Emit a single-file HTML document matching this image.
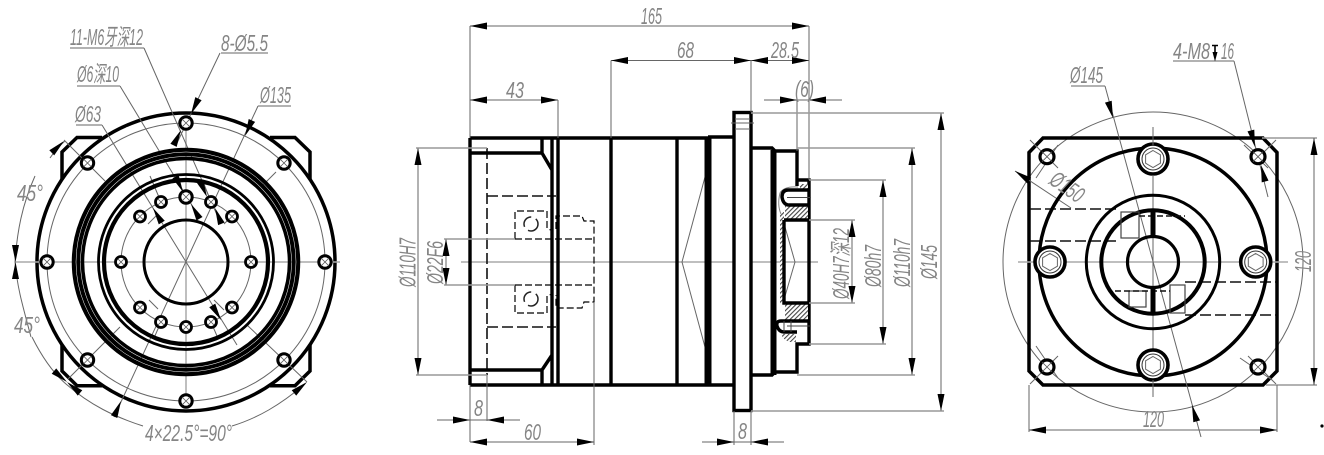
<!DOCTYPE html>
<html>
<head>
<meta charset="utf-8">
<style>
html,body{margin:0;padding:0;background:#fff;width:1324px;height:455px;overflow:hidden}
svg{display:block}
text{font-family:"Liberation Sans","Noto Sans CJK SC",sans-serif;font-style:italic;fill:#858585;font-size:23px}
.k{fill:none;stroke:#000;stroke-width:3.5}
.d{fill:none;stroke:#111;stroke-width:1.6;stroke-dasharray:11 4}
.f{fill:none;stroke:#666;stroke-width:1}
.g{fill:none;stroke:#999;stroke-width:1.4}
.c{fill:none;stroke:#aaa;stroke-width:1.5}
</style>
</head>
<body>
<svg width="1324" height="455" viewBox="0 0 1324 455" xmlns="http://www.w3.org/2000/svg">
<defs>
<path id="a" d="M0 0L-17 -3.5V3.5z" fill="#000"/>
<g id="h"><circle r="5.5" fill="#fff" stroke="#000" stroke-width="2.8"/><path d="M-3 -3L3 3M-3 3L3 -3" stroke="#555" stroke-width=".8"/></g>
<g id="b"><circle r="6.2" fill="#fff" stroke="#000" stroke-width="3"/><path d="M-4 -4L4 4M-4 4L4 -4" stroke="#555" stroke-width=".8"/></g>
<g id="s"><circle r="15" fill="#fff" stroke="#000" stroke-width="3.6"/><circle r="11" fill="none" stroke="#333" stroke-width="1"/><path d="M0 -8.5L7.4 -4.2V4.2L0 8.5L-7.4 4.2V-4.2z" fill="none" stroke="#666" stroke-width="1"/></g>
<g id="q"><circle r="7" fill="#fff" stroke="#000" stroke-width="3.2"/><path d="M-5 -5L5 5M-5 5L5 -5" stroke="#555" stroke-width=".8"/></g>
<pattern id="ht" width="3.2" height="3.2" patternUnits="userSpaceOnUse" patternTransform="rotate(45)"><rect width="3.2" height="3.2" fill="#fff"/><rect width="1.1" height="3.2" fill="#444"/></pattern>
</defs>

<!-- LEFT VIEW -->
<path class="k" d="M102 137.5H77L62 152V180M62 344V371L77 385.7H102M270 137.5H295L310 152V180M310 344V371L295 385.7H270"/>
<circle cx="186" cy="262" r="149" fill="#fff" stroke="#000" stroke-width="3.5"/>
<circle class="f" cx="186" cy="262" r="139"/>
<circle class="f" cx="186" cy="262" r="65"/>
<path class="c" d="M186 118V400M15 262H340"/>
<path class="f" d="M64 140L105 181M68 379L120 327M247 325L307 382M276 172L262 186M102 125L237 345M258 106L114 417M120 86L199 217M144 48L221 224M220 53L177 143"/>
<path class="f" d="M148 224L157 215M224 224L233 215M149 300L158 309M214 300L224 310M161 202L150 176M211 202L204 184M161 322L154 338M211 322L217 336"/>
<path class="f" d="M15 262C17 232 22 205 35 176M50 158C54 152 58 147 65 141M15 262C17 285 21 300 31 337M32 337C41 355 52 372 66 384M66 384C90 405 115 417 143 426M232 426C258 418 280 405 305 384"/>
<path class="f" d="M70 48H144M221 53H268M77 86H120M258 106H291M76 125H102"/>
<circle class="k" cx="186" cy="262" r="110" style="stroke-width:8.5"/>
<circle cx="186" cy="262" r="110" fill="none" stroke="#fff" stroke-width=".5"/>
<circle class="k" cx="186" cy="262" r="103.5"/>
<circle class="k" cx="186" cy="262" r="87.5" style="stroke-width:2.8"/>
<circle class="k" cx="186" cy="262" r="82" style="stroke-width:4.2"/>
<circle class="k" cx="186" cy="262" r="42" style="stroke-width:3"/>
<use href="#b" x="186" y="123"/><use href="#b" x="186" y="401"/><use href="#b" x="47" y="262"/><use href="#b" x="325" y="262"/>
<use href="#b" x="87.5" y="163"/><use href="#b" x="284" y="163"/><use href="#b" x="87.5" y="360"/><use href="#b" x="284" y="360"/>
<use href="#h" x="121" y="262"/><use href="#h" x="251" y="262"/>
<use href="#h" x="140" y="216.5"/><use href="#h" x="232" y="216.5"/><use href="#h" x="140" y="307.5"/><use href="#h" x="232" y="307.5"/>
<use href="#h" x="161" y="202"/><use href="#h" x="211" y="202"/><use href="#h" x="161" y="322"/><use href="#h" x="211" y="322"/><use href="#h" x="186" y="327"/>
<use href="#b" x="186" y="197"/>
<!-- left arrows -->
<use href="#a" transform="translate(191 114) rotate(116)"/>
<use href="#a" transform="translate(181 130) rotate(-64)"/>
<use href="#a" transform="translate(183 192) rotate(64)"/>
<use href="#a" transform="translate(191 204) rotate(-120)"/>
<use href="#a" transform="translate(207 197) rotate(66)"/>
<use href="#a" transform="translate(215 208) rotate(-112)"/>
<use href="#a" transform="translate(245 136) rotate(114)"/>
<use href="#a" transform="translate(121 401) rotate(-66)"/>
<use href="#a" transform="translate(153 208) rotate(-121)"/>
<use href="#a" transform="translate(221 320) rotate(59)" />
<use href="#a" transform="translate(64 141) rotate(-44)"/>
<use href="#a" transform="translate(15.5 262) rotate(90)"/>
<use href="#a" transform="translate(15.5 262) rotate(-90)"/>
<use href="#a" transform="translate(67 382) rotate(40)"/>
<use href="#a" transform="translate(307 382) rotate(-40)"/>
<use href="#a" transform="translate(67 382) rotate(-140)"/>
<text x="70" y="45" textLength="73" lengthAdjust="spacingAndGlyphs">11-M6牙深12</text>
<text x="221" y="51" textLength="47" lengthAdjust="spacingAndGlyphs">8-Ø5.5</text>
<text x="77" y="82" textLength="42" lengthAdjust="spacingAndGlyphs">Ø6深10</text>
<text x="260" y="103" textLength="31" lengthAdjust="spacingAndGlyphs">Ø135</text>
<text x="75" y="122" textLength="26" lengthAdjust="spacingAndGlyphs">Ø63</text>
<text x="17" y="201" textLength="26" lengthAdjust="spacingAndGlyphs">45°</text>
<text x="14" y="333" textLength="26" lengthAdjust="spacingAndGlyphs">45°</text>
<text x="145" y="441" textLength="87" lengthAdjust="spacingAndGlyphs">4×22.5°=90°</text>

<!-- MIDDLE VIEW -->
<path class="c" d="M461 262H818"/>
<path class="d" d="M487 148V375M487 196H556M487 327H556"/>
<path d="M515 239V211H547V228Q549 230 552 230V228M515 285V313H547V296Q549 294 552 295M556 229V216H582L584 221H594V302H584L582 308H556V295M515 239H594M515 285H594" fill="none" stroke="#000" stroke-width="1.2" stroke-dasharray="7 3"/>
<circle cx="531" cy="224" r="7" fill="none" stroke="#222" stroke-width="1.5" stroke-dasharray="14 5"/>
<circle cx="531" cy="299" r="7" fill="none" stroke="#222" stroke-width="1.5" stroke-dasharray="14 5"/>
<path class="f" d="M705 177L682 262L705 347M783 220L795 262L783 303"/>
<path d="M470 138H708M470 385H708M470 138V385M470 153H542V138M470 370H542V385M542 153L552 170M542 370L552 355M552 138V385M558 138V385M611 138V385M677 138V385M708 137H733M708 385H733" fill="none" stroke="#000" stroke-width="3.4"/>
<rect x="704.5" y="137" width="7" height="248" fill="#000"/>
<rect x="734" y="112.5" width="17" height="298" fill="#fff" stroke="#000" stroke-width="3.4"/>
<path class="f" d="M731 123H754M735 119H750M735 129H750"/>
<path d="M751 148H772L775 151H797V186M797 180H809V344H797V372H775L772 375H751" fill="none" stroke="#000" stroke-width="3.4"/>
<rect x="770.5" y="150" width="6" height="225" fill="#000"/>
<rect x="785" y="205" width="23" height="15" fill="url(#ht)"/>
<rect x="785" y="303" width="23" height="17" fill="url(#ht)"/>
<rect x="800" y="184" width="8" height="6" fill="url(#ht)"/>
<rect x="780" y="212" width="4" height="92" fill="url(#ht)"/>
<path d="M781 334H796V342H790Q783 340 781 334z" fill="url(#ht)"/>
<path d="M798 187Q784 186 780 193Q777 205 781 214" fill="none" stroke="#888" stroke-width="1"/>
<path d="M809 190H788Q782 190 782 197Q783 204 788 205H809M784 220H809M784 220V303H809M809 321H781Q776 321 777 326Q779 332 784 332H797" fill="none" stroke="#000" stroke-width="3.4"/>
<path d="M787 197.5H811M787 326H811M784 321V332M791 321V332" fill="none" stroke="#444" stroke-width="1"/>
<path class="f" d="M470 26V138M809 26V180M470 26H809M611 60.5V138M751 60.5V112M611 60.5H751M751 60.5H809M470 100H558M558 100V138M764 100H842M797 100V151"/>
<path class="f" d="M941 113V411M912 148V375M883 180V344M852 220V303M418 148V375M446 239V285M437 420H520M470 385V442M487 375V421M470 442H594M594 302V445M702 442H784M734 411V445M751 411V445"/>
<path class="g" d="M751 113H944M751 411H944M797 148H915M797 375H915M809 180H886M809 344H886M809 220H855M809 303H855M416 148H487M416 375H487M444 239H515M444 285H515"/>
<use href="#a" transform="translate(470 26) rotate(180)"/><use href="#a" x="809" y="26"/>
<use href="#a" transform="translate(611 60.5) rotate(180)"/><use href="#a" x="751" y="60.5"/>
<use href="#a" transform="translate(751 60.5) rotate(180)"/><use href="#a" x="809" y="60.5"/>
<use href="#a" transform="translate(470 100) rotate(180)"/><use href="#a" x="558" y="100"/>
<use href="#a" x="797" y="100"/><use href="#a" transform="translate(809 100) rotate(180)"/>
<use href="#a" transform="translate(941 113) rotate(-90)"/><use href="#a" transform="translate(941 411) rotate(90)"/>
<use href="#a" transform="translate(912 148) rotate(-90)"/><use href="#a" transform="translate(912 375) rotate(90)"/>
<use href="#a" transform="translate(883 180) rotate(-90)"/><use href="#a" transform="translate(883 344) rotate(90)"/>
<use href="#a" transform="translate(852 220) rotate(-90)"/><use href="#a" transform="translate(852 303) rotate(90)"/>
<use href="#a" transform="translate(418 148) rotate(-90)"/><use href="#a" transform="translate(418 375) rotate(90)"/>
<use href="#a" transform="translate(446 239) rotate(-90)"/><use href="#a" transform="translate(446 285) rotate(90)"/>
<use href="#a" x="470" y="420"/><use href="#a" transform="translate(487 420) rotate(180)"/>
<use href="#a" transform="translate(470 442) rotate(180)"/><use href="#a" x="594" y="442"/>
<use href="#a" x="734" y="442"/><use href="#a" transform="translate(751 442) rotate(180)"/>
<text x="641" y="24" textLength="21" lengthAdjust="spacingAndGlyphs">165</text>
<text x="677" y="58" textLength="17" lengthAdjust="spacingAndGlyphs">68</text>
<text x="771" y="58" textLength="28" lengthAdjust="spacingAndGlyphs">28.5</text>
<text x="795" y="97" textLength="19" lengthAdjust="spacingAndGlyphs">(6)</text>
<text x="506" y="98" textLength="18" lengthAdjust="spacingAndGlyphs">43</text>
<text x="474" y="416" textLength="9" lengthAdjust="spacingAndGlyphs">8</text>
<text x="524" y="440" textLength="17" lengthAdjust="spacingAndGlyphs">60</text>
<text x="738" y="439" textLength="9" lengthAdjust="spacingAndGlyphs">8</text>
<text transform="translate(415.5 287) rotate(-90)" textLength="49" lengthAdjust="spacingAndGlyphs">Ø110H7</text>
<text transform="translate(443 284) rotate(-90)" textLength="43" lengthAdjust="spacingAndGlyphs">Ø22F6</text>
<text transform="translate(849 299) rotate(-90)" textLength="71" lengthAdjust="spacingAndGlyphs">Ø40H7深12</text>
<text transform="translate(881 287) rotate(-90)" textLength="42" lengthAdjust="spacingAndGlyphs">Ø80h7</text>
<text transform="translate(910 287) rotate(-90)" textLength="48" lengthAdjust="spacingAndGlyphs">Ø110h7</text>
<text transform="translate(937 279) rotate(-90)" textLength="34" lengthAdjust="spacingAndGlyphs">Ø145</text>

<!-- RIGHT VIEW -->
<circle class="f" cx="1153" cy="262" r="150"/>
<path d="M1043 138H1263L1277 152.5V371L1263 385H1043L1029 371V152.5z" fill="none" stroke="#000" stroke-width="3.5"/>
<path class="c" d="M1018 262H1288"/>
<path class="f" d="M1153 127V397M1105 86L1201 437M1234 61L1268 197M1015 171L1071 208M1030 140L1058 168M1036 178L1058 145M1276 140L1262 154M1244 145L1268 168M1030 384L1058 356M1036 346L1058 378M1276 384L1248 356M1240 358L1272 380"/>
<path class="f" d="M1071 86H1105M1173 61H1234"/>
<path class="d" d="M1030 209H1120M1030 241H1120M1185 282H1276M1185 315H1276"/>
<circle class="k" cx="1153" cy="262" r="114"/>
<circle class="k" cx="1153" cy="262" r="66.7" style="stroke-width:3"/>
<circle class="k" cx="1153" cy="262" r="51.7" style="stroke-width:4"/>
<circle class="k" cx="1153" cy="262" r="25.5" style="stroke-width:3.2"/>
<rect x="1121" y="212" width="18" height="26" fill="none" stroke="#444" stroke-width="1.2"/>
<path d="M1139 216H1185" fill="none" stroke="#111" stroke-width="1.6" stroke-dasharray="6 3"/>
<rect x="1129" y="291" width="17" height="16" fill="none" stroke="#444" stroke-width="1.2"/>
<rect x="1170" y="285" width="15" height="28" fill="none" stroke="#444" stroke-width="1.2"/>
<path d="M1115 291H1170" fill="none" stroke="#111" stroke-width="1.6" stroke-dasharray="6 3"/>
<rect x="1150.5" y="210" width="5" height="26" fill="#000"/>
<rect x="1150.5" y="287" width="5" height="27" fill="#000"/>
<use href="#q" x="1047" y="156.7"/><use href="#q" x="1258" y="156.7"/><use href="#q" x="1047" y="367"/><use href="#q" x="1258" y="367"/>
<use href="#s" x="1153" y="159"/><use href="#s" x="1153" y="365"/><use href="#s" x="1050" y="262"/><use href="#s" x="1255.7" y="262"/>
<path class="f" d="M1153 127V145M1153 175V190M1153 380V397"/>
<path class="g" d="M1262 138H1317M1266 385H1317"/>
<path class="f" d="M1314 138V385M1029 385V432M1277 385V432M1029 430H1277"/>
<use href="#a" transform="translate(1113 118) rotate(74)"/>
<use href="#a" transform="translate(1192 405) rotate(-106)"/>
<use href="#a" transform="translate(1255 147) rotate(76)"/>
<use href="#a" transform="translate(1261 165) rotate(-104)"/>
<use href="#a" transform="translate(1015 171) rotate(-146)"/>
<use href="#a" transform="translate(1314 138) rotate(-90)"/><use href="#a" transform="translate(1314 385) rotate(90)"/>
<use href="#a" transform="translate(1029 430) rotate(180)"/><use href="#a" x="1277" y="430"/>
<path d="M1212 45.5H1218M1215 45V55" stroke="#000" stroke-width="1.6" fill="none"/><path d="M1215 61.5L1212.5 52H1217.5z" fill="#000"/>
<text x="1173" y="59" textLength="37" lengthAdjust="spacingAndGlyphs">4-M8</text>
<text x="1221" y="59" textLength="13" lengthAdjust="spacingAndGlyphs">16</text>
<text x="1070" y="83" textLength="33" lengthAdjust="spacingAndGlyphs">Ø145</text>
<text x="1143" y="427" textLength="21" lengthAdjust="spacingAndGlyphs">120</text>
<text transform="translate(1311 272) rotate(-90)" textLength="21" lengthAdjust="spacingAndGlyphs">120</text>
<text transform="translate(1048 183) rotate(35)" textLength="36" lengthAdjust="spacingAndGlyphs">Ø150</text>
<circle cx="1322" cy="426" r="1.6" fill="#000"/>
</svg>
</body>
</html>
